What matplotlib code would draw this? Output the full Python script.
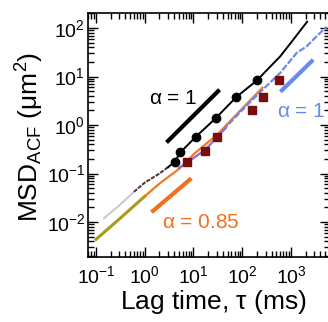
import numpy as np
import matplotlib
matplotlib.use('Agg')
import matplotlib.pyplot as plt
from matplotlib.ticker import LogLocator, NullFormatter

plt.rcParams['font.family'] = ['Liberation Sans', 'DejaVu Sans']
plt.rcParams['mathtext.fontset'] = 'custom'
plt.rcParams['mathtext.rm'] = 'Liberation Sans'
plt.rcParams['mathtext.it'] = 'Liberation Sans:italic'
plt.rcParams['mathtext.default'] = 'regular'

# upper trace (black), split by colour
gray_t = [0.146, 0.3, 0.6]
gray_msd = [0.012, 0.022, 0.042]
brown_t = [0.6, 1.0, 2.0, 3.0]
brown_msd = [0.042, 0.065, 0.10, 0.135]
black_t = [3.0, 4.1, 5.4, 11.2, 28.3, 75, 199, 600, 1120, 2140]
black_msd = [0.135, 0.174, 0.274, 0.575, 1.37, 3.75, 8.3, 26, 58, 135]

# black circles
circ_t = [4.1, 5.4, 11.2, 28.3, 75, 199]
circ_msd = [0.174, 0.274, 0.575, 1.37, 3.75, 8.3]

# lower trace
olive_t = [0.1, 0.3, 1.0]
olive_msd = [0.0044, 0.0115, 0.034]
orange_t = [1.0, 2.0, 4.8, 7.0, 10, 31, 100, 260]
orange_msd = [0.034, 0.062, 0.12, 0.165, 0.25, 0.64, 2.2, 5.9]
purple_t = [5.0, 7.4, 17.6, 31, 45]
purple_msd = [0.13, 0.17, 0.31, 0.58, 0.85]
blue_t = [31, 60, 146, 320, 600, 1310, 2100, 3370, 5400]
blue_msd = [0.58, 1.2, 3.0, 6.5, 11.9, 30.8, 42, 68, 106]

# dark red squares
sq_t = [7.4, 17.6, 31, 158, 266, 556]
sq_msd = [0.17, 0.29, 0.575, 2.03, 3.8, 8.4]

# slope guides
g1_t = [3.0, 32]
g1_msd = [0.47, 5.0]
g085_t = [1.48, 8.4]
g085_msd = [0.017, 0.075]
gb_t = [650, 2660]
gb_msd = [5.2, 20.7]

fig = plt.figure(figsize=(3.28, 3.22), dpi=100)
ax = fig.add_axes([88/328, 65/322, 242/328, 244/322])

ax.loglog(gray_t, gray_msd, color='#c8c8c8', lw=1.4)
ax.loglog(brown_t, brown_msd, color='#5a3a30', lw=1.5, ls=(0, (2, 0.6)))
ax.loglog(olive_t, olive_msd, color='#a89a1c', lw=2.2)
ax.loglog(orange_t, orange_msd, color='#f07a20', lw=1.6)
ax.loglog(blue_t, blue_msd, color='#6a8af0', lw=1.6, ls=(0, (3, 0.8)))
ax.loglog(purple_t, purple_msd, color='#9a66cc', lw=1.6)
ax.loglog(black_t, black_msd, color='black', lw=1.4)
ax.loglog(circ_t, circ_msd, 'o', color='black', ms=6)
ax.loglog(sq_t, sq_msd, 's', color='#7a0c0c', ms=6)

ax.loglog(g1_t, g1_msd, color='black', lw=3)
ax.loglog(g085_t, g085_msd, color='#f07020', lw=3)
ax.loglog(gb_t, gb_msd, color='#6a8af0', lw=3)

ax.text(3.76, 3.6, r'$\alpha$ = 1', fontsize=15, color='black', ha='center', va='center')
ax.text(525, 1.9, r'$\alpha$ = 1', fontsize=15, color='#6a8af0', ha='left', va='center')
ax.text(14.1, 0.0099, r'$\alpha$ = 0.85', fontsize=15, color='#f07020', ha='center', va='center')

ax.set_xlim(10**-1.164, 10**3.8)
ax.set_ylim(10**-2.72, 10**2.31)

ax.xaxis.set_minor_locator(LogLocator(base=10, subs=np.arange(2, 10), numticks=20))
ax.yaxis.set_minor_locator(LogLocator(base=10, subs=np.arange(2, 10), numticks=20))
ax.xaxis.set_minor_formatter(NullFormatter())
ax.yaxis.set_minor_formatter(NullFormatter())
ax.tick_params(which='both', direction='in', top=True, right=True, width=1)
ax.tick_params(which='major', length=7, labelsize=14)
ax.tick_params(which='minor', length=4)
ax.tick_params(axis='x', which='major', pad=6)
ax.tick_params(axis='y', which='major', pad=2)
for s in ax.spines.values():
    s.set_linewidth(1.2)

ax.set_xticks([0.1, 1, 10, 100, 1000])
ax.set_xticklabels(['$10^{-1}$', '$10^{0}$', '$10^{1}$', '$10^{2}$', '$10^{3}$'])
ax.set_yticks([0.01, 0.1, 1, 10, 100])
ax.set_yticklabels(['$10^{-2}$', '$10^{-1}$', '$10^{0}$', '$10^{1}$', '$10^{2}$'])

fig.text(213/328, 1 - 302/322, r'Lag time, $\tau$ (ms)', fontsize=19, ha='center', va='center')
fig.text(30/328, 1 - 137/322, r'MSD$_{ACF}$ ($\mu$m$^2$)', fontsize=19, ha='center', va='center', rotation=90)

fig.savefig('out.png', dpi=100)
